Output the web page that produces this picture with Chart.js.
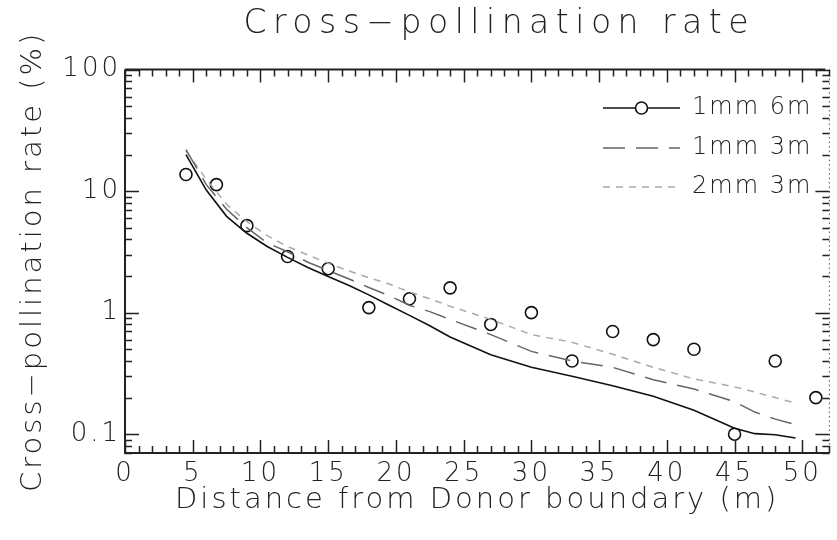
<!DOCTYPE html>
<html>
<head>
<meta charset="utf-8">
<script src="https://cdn.jsdelivr.net/npm/chart.js@4.4.0/dist/chart.umd.min.js"></script>
<style>
  html, body { margin: 0; padding: 0; background: #fff; }
  #wrap { width: 837px; height: 540px; }
</style>
</head>
<body>
<div id="wrap"><canvas id="rateChart"></canvas></div>
<script>
// distance from the donor boundary (m) where the modelled curves are given
const modelDistance = [4.5, 6, 7.5, 9, 10.5, 12, 13.5, 15, 16.5, 18, 19.5, 21, 22.5, 24,
                       27, 30, 33, 36, 39, 42, 45, 46.5, 48, 49.5];
// modelled cross-pollination rate (%)
const rate1mm6m = [20, 10.2, 6.2, 4.5, 3.5, 2.85, 2.35, 1.98, 1.68, 1.40, 1.15, 0.95, 0.78, 0.63,
                   0.45, 0.355, 0.30, 0.25, 0.205, 0.157, 0.112, 0.101, 0.099, 0.093];
const rate1mm3m = [22, 11.3, 7.1, 5.0, 3.75, 3.17, 2.6, 2.22, 1.9, 1.61, 1.38, 1.15, 1.02, 0.88,
                   0.66, 0.48, 0.40, 0.355, 0.28, 0.235, 0.185, 0.152, 0.133, 0.12];
const rate2mm3m = [21.5, 12.5, 7.8, 5.6, 4.3, 3.5, 2.98, 2.55, 2.21, 1.94, 1.72, 1.48, 1.3, 1.13,
                   0.88, 0.66, 0.57, 0.455, 0.355, 0.285, 0.245, 0.222, 0.20, 0.18];

// measured rates, 1mm 6m
const obsDistance = [4.5, 6.75, 9, 12, 15, 18, 21, 24, 27, 30, 33, 36, 39, 42, 45, 48, 51];
const obs1mm6m = [13.7, 11.3, 5.2, 2.9, 2.3, 1.1, 1.3, 1.6, 0.8, 1.0, 0.4, 0.7, 0.6, 0.5, 0.1, 0.4, 0.2];

const xTicks = [0, 5, 10, 15, 20, 25, 30, 35, 40, 45, 50];
const yTicks = [0.1, 1, 10, 100];

const FONT = "'DejaVu Sans', 'Liberation Sans', sans-serif";
Chart.defaults.font.family = FONT;
Chart.defaults.font.weight = 200;
Chart.defaults.color = '#222';

function pairs(xs, ys) {
    return xs.map((d, i) => ({x: d, y: ys[i]}));
}

// wide lettering like a plotter font; the title gets extra spacing
const spacing = {
    id: 'spacing',
    beforeUpdate(chart) { chart.ctx.letterSpacing = '3px'; },
    beforeDraw(chart) { chart.ctx.letterSpacing = '3px'; },
    afterLayout(chart) {
        const t = chart.titleBlock;
        if (!t) return;
        t.left += 22;
        t.right += 22;
        if (!t._spaced) {
            const draw = t.draw.bind(t);
            t.draw = function (...args) {
                chart.ctx.letterSpacing = '6.5px';
                draw(...args);
                chart.ctx.letterSpacing = '3px';
            };
            t._spaced = true;
        }
    }
};

// box round the plot with inward ticks, dotted right edge
const frame = {
    id: 'frame',
    afterDraw(chart) {
        const ctx = chart.ctx;
        const a = chart.chartArea;
        const x = chart.scales.x;
        const y = chart.scales.y;
        ctx.save();
        ctx.strokeStyle = '#222';
        ctx.lineWidth = 2;
        ctx.beginPath();
        ctx.moveTo(a.left, a.top);
        ctx.lineTo(a.left, a.bottom);
        ctx.lineTo(a.right, a.bottom);
        ctx.moveTo(a.left, a.top);
        ctx.lineTo(a.right - 4, a.top);
        ctx.stroke();

        ctx.setLineDash([1.5, 3]);
        ctx.lineWidth = 1;
        ctx.strokeStyle = '#555';
        ctx.beginPath();
        ctx.moveTo(a.right, a.top);
        ctx.lineTo(a.right, a.bottom);
        ctx.stroke();
        ctx.setLineDash([]);

        ctx.lineWidth = 1.5;
        ctx.strokeStyle = '#222';
        ctx.beginPath();
        for (let v = Math.ceil(x.min); v <= x.max; v++) {
            const px = Math.round(x.getPixelForValue(v)) + 0.5;
            const len = v % 5 === 0 ? 13 : 7;
            ctx.moveTo(px, a.bottom);
            ctx.lineTo(px, a.bottom - len);
            ctx.moveTo(px, a.top);
            ctx.lineTo(px, a.top + len);
        }
        for (let d = Math.floor(Math.log10(y.min)); d <= Math.log10(y.max); d++) {
            for (let k = 1; k < 10; k++) {
                const v = k * Math.pow(10, d);
                if (v < y.min - 1e-9 || v > y.max + 1e-9) continue;
                const py = Math.round(y.getPixelForValue(v)) + 0.5;
                const len = k === 1 ? 14 : 7;
                ctx.moveTo(a.left, py);
                ctx.lineTo(a.left + len, py);
                ctx.moveTo(a.right, py);
                ctx.lineTo(a.right - len, py);
            }
        }
        ctx.stroke();
        ctx.restore();
    }
};

// legend in the upper right corner
const legendBox = {
    id: 'legendBox',
    afterDraw(chart) {
        const ctx = chart.ctx;
        const rows = chart.data.datasets.filter(ds => ds.inLegend);
        const x0 = 603, x1 = 680, tx = 692;
        const rowY = [108, 148, 187];
        ctx.save();
        ctx.font = '200 24px ' + FONT;
        ctx.letterSpacing = '2px';
        ctx.textBaseline = 'middle';
        ctx.textAlign = 'left';
        rows.forEach((ds, i) => {
            const yy = rowY[i];
            ctx.strokeStyle = ds.borderColor;
            ctx.lineWidth = ds.borderWidth;
            ctx.setLineDash(ds.borderDash || []);
            ctx.beginPath();
            ctx.moveTo(x0, yy);
            ctx.lineTo(x1, yy);
            ctx.stroke();
            ctx.setLineDash([]);
            if (ds.legendMarker) {
                ctx.fillStyle = '#fff';
                ctx.beginPath();
                ctx.arc((x0 + x1) / 2, yy, 6, 0, Math.PI * 2);
                ctx.fill();
                ctx.stroke();
            }
            ctx.fillStyle = '#222';
            ctx.fillText(ds.label, tx, yy);
        });
        ctx.restore();
    }
};

new Chart(document.getElementById('rateChart'), {
    type: 'line',
    data: {
        datasets: [
            {
                label: '1mm 6m',
                data: pairs(modelDistance, rate1mm6m),
                borderColor: '#111',
                borderWidth: 1.6,
                pointRadius: 0,
                tension: 0,
                inLegend: true,
                legendMarker: true
            },
            {
                label: '1mm 3m',
                data: pairs(modelDistance, rate1mm3m),
                borderColor: '#666',
                borderWidth: 1.5,
                borderDash: [22, 11],
                pointRadius: 0,
                tension: 0,
                inLegend: true
            },
            {
                label: '2mm 3m',
                data: pairs(modelDistance, rate2mm3m),
                borderColor: '#aaa',
                borderWidth: 1.5,
                borderDash: [7, 6],
                pointRadius: 0,
                tension: 0,
                inLegend: true
            },
            {
                label: '1mm 6m',
                data: pairs(obsDistance, obs1mm6m),
                showLine: false,
                pointRadius: 6,
                pointHoverRadius: 6,
                pointBorderColor: '#111',
                pointBackgroundColor: 'rgba(0,0,0,0)',
                pointBorderWidth: 1.6
            }
        ]
    },
    options: {
        responsive: true,
        maintainAspectRatio: false,
        devicePixelRatio: 1,
        animation: false,
        layout: {padding: {top: 0, right: 2, bottom: 0, left: 0}},
        plugins: {
            legend: {display: false},
            tooltip: {enabled: false},
            title: {
                display: true,
                text: 'Cross−pollination rate',
                fullSize: false,
                font: {size: 33, weight: 200},
                color: '#222',
                padding: {top: 5, bottom: 25}
            }
        },
        scales: {
            x: {
                type: 'linear',
                min: 0,
                max: 52,
                afterBuildTicks: s => { s.ticks = xTicks.map(v => ({value: v})); },
                afterFit: s => {
                    s.height = 87;
                    s.paddingLeft = 0;
                    s.paddingRight = 0;
                },
                grid: {display: false, drawTicks: false},
                border: {display: false},
                ticks: {padding: 6, font: {size: 26}, maxRotation: 0, autoSkip: false},
                title: {
                    display: true,
                    text: 'Distance from Donor boundary (m)',
                    font: {size: 29},
                    padding: {top: 0, bottom: 22}
                }
            },
            y: {
                type: 'logarithmic',
                min: 0.07,
                max: 100,
                afterBuildTicks: s => { s.ticks = yTicks.map(v => ({value: v})); },
                afterFit: s => { s.width = 125; },
                grid: {display: false, drawTicks: false},
                border: {display: false},
                ticks: {padding: 4, font: {size: 26}, callback: v => String(v)},
                title: {
                    display: true,
                    text: 'Cross−pollination rate (%)',
                    font: {size: 29},
                    padding: {top: 16, bottom: 0}
                }
            }
        }
    },
    plugins: [spacing, frame, legendBox]
});
</script>
</body>
</html>
